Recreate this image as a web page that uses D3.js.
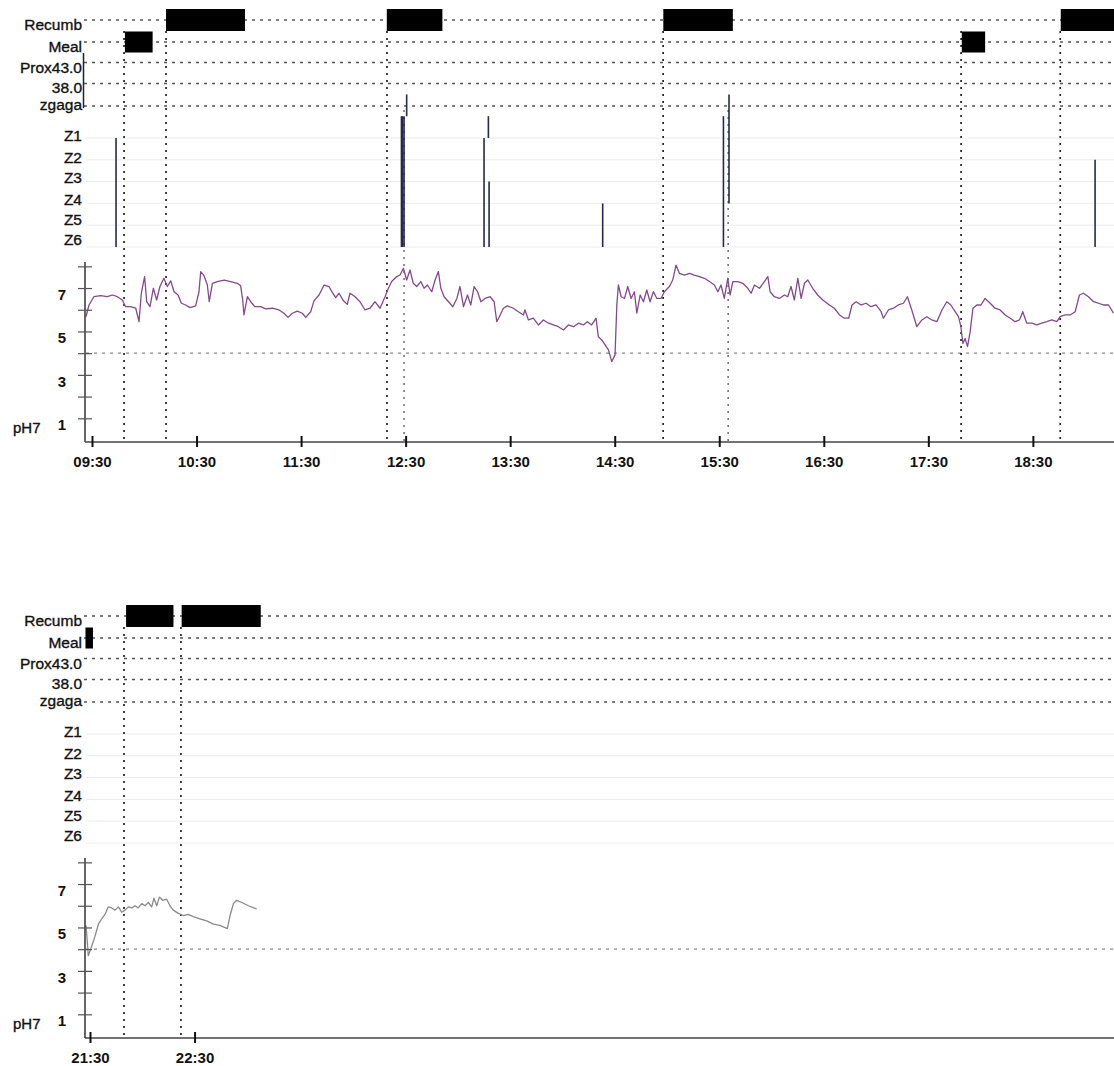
<!DOCTYPE html>
<html>
<head>
<meta charset="utf-8">
<script src="https://cdn.jsdelivr.net/npm/d3@7"></script>
<style>
  body { margin: 0; background: #fff; }
  text { font-family: "Liberation Sans", Arial, sans-serif; }
</style>
</head>
<body>
<div id="chart"></div>
<script>
// channel labels, top to bottom
var rowLabels = ["Recumb", "Meal", "Prox43.0", "38.0", "zgaga", "Z1", "Z2", "Z3", "Z4", "Z5", "Z6"];
var phTickValues = [1, 2, 3, 4, 5, 6, 7, 8];
var phLabels = [1, 3, 5, 7];
var topTicks = ["09:30", "10:30", "11:30", "12:30", "13:30", "14:30", "15:30", "16:30", "17:30", "18:30"];
var bottomTicks = ["21:30", "22:30"];

// all times are minutes after the first tick of the panel
var recumbTop = [[42.5, 87.8], [169.2, 201.1], [327.9, 367.8], [556, 600]];
var mealTop = [[18.9, 34.8], [499.2, 512.6]];
var eventMarksTop = [18.4, 42.5, 169.3, 327.8, 498.8, 555.7];
var refluxMarksTop = [179.1, 365.1];
// impedance runs: [minute, from channel, to channel] (0 = zgaga/Z1 border, 6 = Z6)
var zRunsTop = [[13.8, 1, 6], [177.6, 0, 6], [178.3, 0, 6], [179.1, 0, 6], [180.6, -1, 0],
  [225.0, 1, 6], [227.5, 0, 1], [227.9, 3, 6], [293.1, 4, 6], [362.4, 0, 6], [365.6, -1, 4], [575.7, 2, 6]];

var phTop = [[-3.4,5.68],[-2.9,5.85],[-1.7,6.22],[1.1,6.6],[5.0,6.65],[8.8,6.6],[11.7,6.68],[14.5,6.6],
  [17.4,6.45],[19.3,6.14],[22.2,6.14],[25.1,6.07],[27.0,5.45],[28.3,6.76],[30.2,7.53],[31.4,6.37],[33.3,6.14],
  [35.2,6.99],[37.1,6.45],[39.0,7.07],[41.3,7.45],[43.2,7.07],[45.2,7.33],[47.1,6.83],[49.4,6.68],[51.3,6.3],
  [53.8,6.22],[56.3,6.1],[59.5,6.18],[61.4,6.83],[62.4,7.76],[64.3,7.57],[66.2,7.14],[67.3,6.37],[69.1,7.22],
  [71.9,7.3],[75.8,7.37],[79.6,7.3],[83.4,7.22],[85.3,7.11],[86.5,6.45],[87.2,5.76],[89.2,6.6],[91.1,6.37],
  [93.4,6.14],[96.8,6.14],[99.7,6.04],[103.5,6.07],[107.3,5.99],[110.2,5.84],[112.5,5.65],[115.0,5.84],
  [117.8,5.94],[120.7,5.84],[122.7,5.65],[125.5,5.91],[127.4,6.41],[130.3,6.68],[133.2,7.14],[136.0,7.07],
  [137.9,6.8],[139.9,6.56],[141.8,6.76],[144.3,6.41],[146.5,6.25],[148.1,6.76],[151.0,6.6],[153.8,6.37],
  [156.7,5.99],[159.6,6.07],[162.4,6.37],[165.3,6.07],[168.2,6.6],[170.1,6.99],[172.0,7.3],[174.9,7.53],
  [176.8,7.6],[178.7,7.91],[180.6,7.37],[182.5,7.83],[184.4,7.22],[186.4,7.07],[188.7,7.3],[190.6,6.99],
  [192.5,7.14],[195.0,6.83],[196.9,7.37],[198.8,7.76],[200.2,6.99],[202.1,6.6],[204.6,6.37],[207.1,6.14],
  [209.4,6.52],[211.2,7.07],[213.2,6.14],[215.5,6.68],[217.4,6.22],[219.3,7.07],[221.3,6.83],[223.2,6.37],
  [225.6,6.52],[228.5,6.6],[230.8,6.37],[232.3,5.45],[233.8,5.68],[236.1,6.07],[238.4,6.18],[241.8,6.07],
  [244.7,5.91],[247.6,5.76],[248.5,5.99],[250.5,5.53],[253.3,5.61],[256.2,5.3],[259.1,5.53],[262.0,5.38],
  [264.8,5.3],[267.7,5.22],[270.6,5.07],[273.4,5.3],[276.3,5.22],[279.2,5.38],[282.0,5.3],[284.3,5.45],
  [286.8,5.3],[289.3,5.61],[290.6,4.76],[292.6,4.61],[294.5,4.38],[296.4,4.15],[298.3,3.61],[300.2,3.92],
  [301.2,6.2],[302.1,7.14],[303.7,6.6],[305.6,6.52],[307.5,7.07],[309.4,6.52],[311.3,6.83],[312.7,5.84],
  [314.6,6.68],[316.5,6.37],[318.4,6.91],[320.3,6.37],[322.2,6.83],[324.2,6.52],[326.6,6.52],[328.5,6.83],
  [331.4,7.07],[333.3,7.37],[335.2,8.06],[337.1,7.68],[340.0,7.6],[342.9,7.68],[345.7,7.6],[348.6,7.53],
  [351.5,7.45],[354.4,7.3],[357.2,7.14],[359.2,6.83],[361.0,7.14],[362.9,6.52],[364.9,7.45],[366.2,6.68],
  [367.8,7.3],[370.6,7.3],[373.5,7.22],[376.4,6.99],[378.3,6.76],[380.2,7.14],[383.1,6.99],[385.9,7.3],
  [387.9,7.53],[389.2,6.83],[391.6,6.6],[394.5,6.52],[397.4,6.68],[399.3,6.6],[401.2,7.07],[403.1,6.45],
  [405.1,7.45],[407.0,6.52],[408.9,7.22],[410.8,7.37],[413.6,6.99],[416.5,6.68],[419.4,6.45],[423.2,6.22],
  [426.1,6.07],[429.0,5.76],[431.8,5.61],[434.3,5.61],[436.2,6.22],[438.5,6.37],[441.4,6.22],[444.3,6.3],
  [447.1,6.14],[450.0,6.22],[452.9,5.91],[454.2,5.61],[457.1,5.99],[460.0,6.07],[462.8,6.22],[465.7,6.3],
  [468.0,6.6],[470.5,5.99],[473.4,5.22],[476.3,5.53],[479.1,5.68],[482.0,5.53],[484.9,5.45],[487.8,5.99],
  [490.6,6.37],[492.9,6.22],[495.4,5.91],[497.3,5.68],[498.7,5.22],[499.8,4.45],[501.1,4.68],[502.5,4.3],
  [504.0,4.99],[505.6,6.07],[507.9,6.22],[510.2,6.22],[512.6,6.52],[515.5,6.3],[518.3,6.07],[521.2,5.99],
  [524.1,5.76],[527.0,5.61],[529.8,5.45],[532.3,5.53],[534.2,5.91],[536.5,5.38],[539.4,5.38],[542.3,5.3],
  [545.1,5.38],[548.0,5.45],[550.9,5.53],[553.8,5.45],[555.6,5.68],[558.5,5.76],[561.4,5.76],[564.3,5.91],
  [566.7,6.68],[569.0,6.76],[571.9,6.6],[574.8,6.37],[577.6,6.3],[580.5,6.22],[583.4,6.22],[586.3,5.84]];

var recumbBottom = [[20.7, 47.9], [52.6, 98.0]];
var mealBottom = [[-2.6, 1.7]];
var eventMarksBottom = [19.5, 52.2];
var phBottom = [[-2.3,5.1],[-1.6,4.4],[-1.0,3.7],[1.0,4.15],[2.9,4.6],[4.8,5.15],[6.7,5.4],[8.6,5.6],
  [10.5,5.95],[12.5,5.9],[14.4,5.8],[16.3,5.95],[18.2,5.7],[20.1,5.8],[22.0,5.95],[24.0,5.9],[25.8,6.0],
  [27.7,5.9],[29.7,6.1],[31.6,6.0],[33.5,6.15],[35.4,5.95],[36.7,6.35],[38.3,6.0],[39.8,6.4],[41.7,6.25],
  [44.0,6.3],[45.9,6.0],[47.8,5.8],[50.7,5.65],[53.6,5.55],[56.4,5.6],[59.3,5.5],[63.1,5.4],[67.0,5.3],
  [70.8,5.15],[74.6,5.1],[78.8,4.95],[80.4,5.55],[82.3,6.1],[84.2,6.25],[87.1,6.15],[90.9,6.0],[95.7,5.85]];

var width = 1114, height = 1066;
var plotLeft = 86, plotRight = 1114;
var parseTime = d3.timeParse("%H:%M");
var fmtTime = d3.timeFormat("%H:%M");

var svg = d3.select("#chart").append("svg")
  .attr("width", width)
  .attr("height", height);

function drawPanel(top, p) {
  var base = parseTime(p.ticks[0]);
  var toDate = function(m) { return new Date(base.getTime() + m * 60000); };

  var x = d3.scaleTime()
    .domain([toDate(p.startMin), toDate(p.startMin + 590)])
    .range([plotLeft, plotRight]);
  var y = d3.scaleLinear().domain([0, 8.2]).range([440, 262]);
  var zy = d3.scaleLinear().domain([0, 6]).range([116.2, 247]);

  var g = svg.append("g").attr("transform", "translate(0," + top + ")");

  var rowLines = [20, 42, 62.5, 83.5, 106];
  var labelY = [24.5, 46.5, 68, 88, 105, 136, 157.5, 178, 199.5, 220, 240];

  // faint Z channel lines
  g.selectAll(".zline").data(d3.range(1, 7)).enter().append("line")
    .attr("x1", plotLeft).attr("x2", plotRight)
    .attr("y1", d => zy(d)).attr("y2", d => zy(d))
    .attr("stroke", "#ececec").attr("stroke-width", 1);

  // dotted rows
  g.selectAll(".row").data(rowLines).enter().append("line")
    .attr("x1", 84).attr("x2", plotRight)
    .attr("y1", d => d).attr("y2", d => d)
    .attr("stroke", "#555").attr("stroke-width", 1.4)
    .attr("stroke-dasharray", "3,5");

  // pH 4 line
  g.append("line")
    .attr("x1", plotLeft).attr("x2", plotRight)
    .attr("y1", y(4)).attr("y2", y(4))
    .attr("stroke", "#888").attr("stroke-width", 1.3)
    .attr("stroke-dasharray", "3,5");

  // event markers
  g.selectAll(".mark").data(p.marks).enter().append("line")
    .attr("x1", d => x(toDate(d))).attr("x2", d => x(toDate(d)))
    .attr("y1", 31).attr("y2", 442)
    .attr("stroke", "#222").attr("stroke-width", 1.7)
    .attr("stroke-dasharray", "2,5");
  g.selectAll(".rmark").data(p.refluxMarks || []).enter().append("line")
    .attr("x1", d => x(toDate(d))).attr("x2", d => x(toDate(d)))
    .attr("y1", 110).attr("y2", 442)
    .attr("stroke", "#555").attr("stroke-width", 1.3)
    .attr("stroke-dasharray", "2,5");

  // labels
  g.selectAll(".lab").data(rowLabels).enter().append("text")
    .attr("x", 82).attr("y", (d, i) => labelY[i])
    .attr("dy", "0.35em")
    .attr("text-anchor", "end")
    .attr("font-size", 15.5)
    .attr("fill", "#111")
    .attr("stroke", "#111").attr("stroke-width", 0.35)
    .text(d => d);

  if (p.proxLine) {
    g.append("line").attr("x1", 83.5).attr("x2", 83.5).attr("y1", 53).attr("y2", 108)
      .attr("stroke", "#222").attr("stroke-width", 1.5);
  }

  // recumbent and meal bars
  g.selectAll(".rec").data(p.recumb).enter().append("rect")
    .attr("x", d => x(toDate(d[0])))
    .attr("width", d => x(toDate(d[1])) - x(toDate(d[0])))
    .attr("y", 9).attr("height", 22)
    .attr("fill", "#000");
  g.selectAll(".meal").data(p.meal).enter().append("rect")
    .attr("x", d => x(toDate(d[0])))
    .attr("width", d => x(toDate(d[1])) - x(toDate(d[0])))
    .attr("y", 31.5).attr("height", 21)
    .attr("fill", "#000");

  // impedance runs
  g.selectAll(".zrun").data(p.zRuns || []).enter().append("line")
    .attr("x1", d => x(toDate(d[0]))).attr("x2", d => x(toDate(d[0])))
    .attr("y1", d => zy(d[1])).attr("y2", d => zy(d[2]))
    .attr("stroke", "#272a4a").attr("stroke-width", 1.6);

  // pH trace
  var line = d3.line()
    .x(d => x(toDate(d[0])))
    .y(d => y(d[1]));
  g.append("path").datum(p.ph)
    .attr("d", line)
    .attr("fill", "none")
    .attr("stroke", p.phColor)
    .attr("stroke-width", 1.3)
    .attr("stroke-linejoin", "round");

  // y axis
  g.append("line").attr("x1", 85).attr("x2", 85).attr("y1", 262).attr("y2", 442)
    .attr("stroke", "#333").attr("stroke-width", 1.5);
  var yAxis = g.append("g").attr("transform", "translate(92,0)")
    .call(d3.axisLeft(y).tickValues(phTickValues).tickSize(14).tickPadding(12)
      .tickFormat(d => phLabels.indexOf(d) >= 0 ? d : ""));
  yAxis.select(".domain").remove();
  yAxis.selectAll(".tick line").attr("stroke", "#555").attr("stroke-width", 1.2);
  yAxis.selectAll(".tick text").attr("dy", "0.75em").attr("font-size", 15)
    .attr("font-weight", "bold")
    .attr("font-family", "Liberation Sans, Arial, sans-serif").attr("fill", "#111");

  g.append("text").attr("x", 13).attr("y", 428).attr("dy", "0.35em")
    .attr("font-size", 15).attr("fill", "#111")
    .attr("stroke", "#111").attr("stroke-width", 0.35).text("pH7");

  // x axis
  g.append("line").attr("x1", 85).attr("x2", plotRight).attr("y1", 442).attr("y2", 442)
    .attr("stroke", "#444").attr("stroke-width", 1.5);
  var xAxis = g.append("g").attr("transform", "translate(0,436)")
    .call(d3.axisBottom(x).tickValues(p.ticks.map(parseTime)).tickFormat(fmtTime)
      .tickSize(11).tickPadding(9));
  xAxis.select(".domain").remove();
  xAxis.selectAll(".tick line").attr("stroke", "#111").attr("stroke-width", 2);
  xAxis.selectAll(".tick text").attr("font-size", 15)
    .attr("font-weight", "bold")
    .attr("font-family", "Liberation Sans, Arial, sans-serif").attr("fill", "#111");
}

drawPanel(0, {
  ticks: topTicks, startMin: -3.44,
  recumb: recumbTop, meal: mealTop,
  marks: eventMarksTop, refluxMarks: refluxMarksTop,
  zRuns: zRunsTop, ph: phTop, phColor: "#834a8a", proxLine: true
});

drawPanel(596, {
  ticks: bottomTicks, startMin: -2.3,
  recumb: recumbBottom, meal: mealBottom,
  marks: eventMarksBottom,
  ph: phBottom, phColor: "#8a8a8a", proxLine: false
});
</script>
</body>
</html>
